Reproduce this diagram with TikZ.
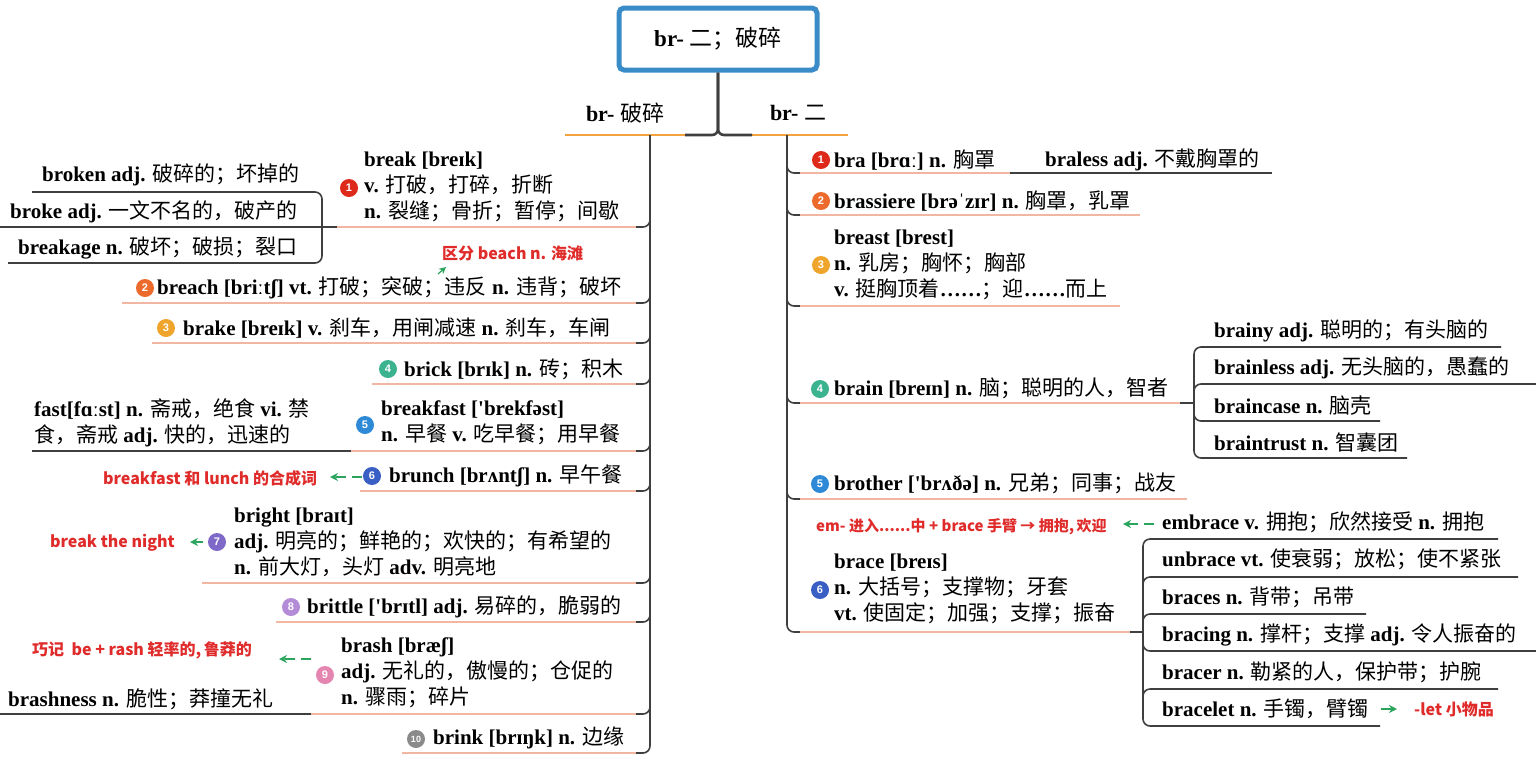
\documentclass[tikz,border=0pt]{standalone}
\usepackage{fontspec}
\setmainfont{Liberation Serif}
\newfontfamily\plainserif{Liberation Serif}
\newfontfamily\cjkfont{Noto Sans CJK SC}
\newfontfamily\redfont{Noto Sans CJK SC}
\newfontfamily\numfont{Liberation Sans}
\newcommand\myapos{{\plainserif\bfseries'}}
\usetikzlibrary{arrows.meta,calc}
% automatic switch to the CJK font for ideographs and full-width punctuation
\XeTeXinterchartokenstate=1
\newXeTeXintercharclass\CJKclass
\newcount\cjkcnt
\def\setcjkrange#1#2{\cjkcnt=#1\relax\loop\XeTeXcharclass\cjkcnt=\CJKclass\advance\cjkcnt by 1\relax\ifnum\cjkcnt<#2\relax\repeat}
\setcjkrange{"3000}{"3040}
\setcjkrange{"4E00}{"A000}
\setcjkrange{"FF00}{"FFF0}
\XeTeXcharclass"2026=0 \XeTeXcharclass"2192=0 \XeTeXcharclass"02C8=0
\XeTeXcharclass"02D0=0 \XeTeXcharclass"2018=0 \XeTeXcharclass"2019=0
\def\cjkswitch{\cjkfont\mdseries}
\XeTeXinterchartoks 0 \CJKclass = {\begingroup\cjkswitch}
\XeTeXinterchartoks 4095 \CJKclass = {\begingroup\cjkswitch}
\XeTeXinterchartoks \CJKclass 0 = {\endgroup}
\XeTeXinterchartoks \CJKclass 4095 = {\endgroup}
\definecolor{lineC}{HTML}{3F3F3F}
\definecolor{salmonC}{HTML}{F2B7A3}
\definecolor{orangeC}{HTML}{F3A33E}
\definecolor{boxC}{HTML}{3A8CC9}
\definecolor{redC}{HTML}{E02B2B}
\definecolor{greenC}{HTML}{2BA55E}
\definecolor{c1}{HTML}{DD2A1B}
\definecolor{c2}{HTML}{EC6A2C}
\definecolor{c3}{HTML}{EFA42B}
\definecolor{c4}{HTML}{3BB38E}
\definecolor{c5}{HTML}{2E8AD6}
\definecolor{c6}{HTML}{3A5FC4}
\definecolor{c7}{HTML}{7E69C9}
\definecolor{c8}{HTML}{B48BD6}
\definecolor{c9}{HTML}{E586B1}
\definecolor{c10}{HTML}{8A8A8A}
\tikzset{
  conn/.style={draw=lineC, line width=1.6pt},
  uline/.style={draw=salmonC, line width=1.6pt},
  elbow/.style={conn, rounded corners=7pt},
  txt/.style={font=\fontsize{21}{26}\selectfont\bfseries, inner sep=0pt, anchor=west, align=left, text=black},
  redtxt/.style={font=\fontsize{16}{19}\selectfont\redfont\bfseries\def\cjkswitch{\relax}, text=redC, inner sep=0pt, anchor=west},
  num/.style={circle, inner sep=0pt, minimum size=18pt, text=white, font=\numfont\bfseries\fontsize{11}{11}\selectfont},
  garrow/.style={draw=greenC, line width=1.8pt, -{Stealth[length=8pt,width=8pt]}},
  gdash/.style={garrow, dash pattern=on 10pt off 6pt},
  headtxt/.style={font=\fontsize{22}{26}\selectfont\bfseries, inner sep=0pt},
}
\begin{document}
\begin{tikzpicture}[x=1pt,y=-1pt]
\fill[white] (0,0) rectangle (1536,761);
\useasboundingbox (0,0) rectangle (1536,761);

% ---------- root and branch heads ----------
\node[draw=boxC, line width=5pt, rounded corners=5pt, minimum width=198pt, minimum height=62pt,
      font=\fontsize{23}{28}\selectfont\bfseries] (root) at (718,39) {br- 二；破碎};
\node[headtxt] (Lhead) at (625,113) {br- 破碎};
\node[headtxt] (Rhead) at (798,113) {br- 二};
\coordinate (Lj) at (685,135);
\coordinate (Rj) at (752,135);
\draw[draw=orangeC, line width=2pt] (565,135) -- (Lj);
\draw[draw=orangeC, line width=2pt] (Rj) -- (848,135);
\draw[conn, line width=2.6pt, rounded corners=6pt] (root.south) |- (Lj);
\draw[conn, line width=2.6pt, rounded corners=6pt] (root.south) |- (Rj);

% ---------- trunks ----------
\coordinate (Ltop) at (650,135);
\coordinate (Lbot) at (650,745);
\coordinate (Rtop) at (787,135);
\coordinate (Rbot) at (787,624);
\draw[conn] (Ltop) -- (Lbot);
\draw[conn] (Rtop) -- (Rbot);
\foreach \y in {227,303,343,384,451,491,583,622,714,753}
  {\draw[elbow] (650,\y-12) |- (634,\y);}
\foreach \y in {173,215,306,403,499,632}
  {\draw[elbow] (787,\y-12) |- (803,\y);}

% ---------- left branch ----------
% 1 break
\node[num,fill=c1] (n1) at (349,188) {1};
\node[txt] (break) at (364,187) {break [breɪk]\\v. 打破，打碎，折断\\n. 裂缝；骨折；暂停；间歇};
\draw[uline] (337,227) -- (636,227);
\node[txt] (broken) at (42,175) {broken adj. 破碎的；坏掉的};
\node[txt] (broke) at (10,212) {broke adj. 一文不名的，破产的};
\node[txt] (breakage) at (18,248) {breakage n. 破坏；破损；裂口};
\draw[conn] (0,227) -- (337,227);
\draw[elbow] (32,192) -| (322,227) |- (8,263);

% 2 breach
\node[num,fill=c2] (n2) at (145,288) {2};
\node[txt] (breach) at (157,288) {breach [briːtʃ] vt. 打破；突破；违反 n. 违背；破坏};
\draw[uline] (122,303) -- (636,303);
\node[redtxt] (beach) at (442,253) {区分 beach n. 海滩};
\coordinate (a2) at (438,274);
\coordinate (b2) at (446,267);
\draw[draw=greenC, line width=1.2pt, -{Stealth[length=7pt,width=7pt]}] (a2) -- (b2);

% 3 brake
\node[num,fill=c3] (n3) at (166,328) {3};
\node[txt] (brake) at (183,328) {brake [breɪk] v. 刹车，用闸减速 n. 刹车，车闸};
\draw[uline] (152,343) -- (636,343);

% 4 brick
\node[num,fill=c4] (n4) at (388,369) {4};
\node[txt] (brick) at (404,369) {brick [brɪk] n. 砖；积木};
\draw[uline] (372,384) -- (636,384);

% 5 breakfast
\node[num,fill=c5] (n5) at (365,425) {5};
\node[txt] (breakfast) at (381,423) {breakfast [\myapos brekfəst]\\n. 早餐 v. 吃早餐；用早餐};
\node[txt] (fast) at (34,423) {fast[fɑːst] n. 斋戒，绝食 vi. 禁\\食，斋戒 adj. 快的，迅速的};
\draw[conn] (32,451) -- (351,451);
\draw[uline] (351,451) -- (636,451);

% 6 brunch
\node[num,fill=c6] (n6) at (372,476) {6};
\node[txt] (brunch) at (389,476) {brunch [brʌntʃ] n. 早午餐};
\draw[uline] (360,491) -- (636,491);
\node[redtxt] (brunchnote) at (103,478) {breakfast 和 lunch 的合成词};
\coordinate (a6s) at (362,477);
\coordinate (a6e) at (330,477);
\draw[gdash] (a6s) -- (a6e);

% 7 bright
\node[num,fill=c7] (n7) at (217,542) {7};
\node[txt] (bright) at (234,542) {bright [braɪt]\\adj. 明亮的；鲜艳的；欢快的；有希望的\\n. 前大灯，头灯 adv. 明亮地};
\draw[uline] (202,583) -- (636,583);
\node[redtxt] (brightnote) at (50,543) {break the night};
\coordinate (a7s) at (203,542);
\coordinate (a7e) at (190,542);
\draw[garrow] (a7s) -- (a7e);

% 8 brittle
\node[num,fill=c8] (n8) at (291,607) {8};
\node[txt] (brittle) at (307,607) {brittle [\myapos brɪtl] adj. 易碎的，脆弱的};
\draw[uline] (276,622) -- (636,622);

% 9 brash
\node[num,fill=c9] (n9) at (325,675) {9};
\node[txt] (brash) at (341,673) {brash [bræʃ]\\adj. 无礼的，傲慢的；仓促的\\n. 骤雨；碎片};
\node[txt] (brashness) at (8,699) {brashness n. 脆性；莽撞无礼};
\draw[conn] (0,714) -- (311,714);
\draw[uline] (311,714) -- (636,714);
\node[redtxt] (brashnote) at (32,650) {巧记\ \ be + rash 轻率的,\,鲁莽的};
\coordinate (a9s) at (311,659);
\coordinate (a9e) at (279,659);
\draw[gdash] (a9s) -- (a9e);

% 10 brink
\node[num,fill=c10,font=\numfont\bfseries\fontsize{9}{9}\selectfont] (n10) at (416,739) {10};
\node[txt] (brink) at (433,738) {brink [brɪŋk] n. 边缘};
\draw[uline] (402,753) -- (636,753);

% ---------- right branch ----------
% 1 bra
\node[num,fill=c1] (r1) at (821,160) {1};
\node[txt] (bra) at (834,160) {bra [brɑː] n. 胸罩};
\draw[uline] (800,173) -- (1010,173);
\draw[conn] (1010,173) -- (1272,173);
\node[txt] (braless) at (1045,160) {braless adj. 不戴胸罩的};

% 2 brassiere
\node[num,fill=c2] (r2) at (821,201) {2};
\node[txt] (brassiere) at (834,201) {brassiere [brəˈzɪr] n. 胸罩，乳罩};
\draw[uline] (800,215) -- (1140,215);

% 3 breast
\node[num,fill=c3] (r3) at (821,265) {3};
\node[txt] (breast) at (834,265) {breast [brest]\\n. 乳房；胸怀；胸部\\v. 挺胸顶着……；迎……而上};
\draw[uline] (800,306) -- (1120,306);

% 4 brain
\node[num,fill=c4] (r4) at (820,389) {4};
\node[txt] (brain) at (834,388) {brain [breɪn] n. 脑；聪明的人，智者};
\draw[uline] (800,403) -- (1180,403);
\draw[conn] (1180,403) -- (1194,403);
\node[txt] (brainy) at (1214,331) {brainy adj. 聪明的；有头脑的};
\node[txt] (brainless) at (1214,368) {brainless adj. 无头脑的，愚蠢的};
\node[txt] (braincase) at (1214,406) {braincase n. 脑壳};
\node[txt] (braintrust) at (1214,443) {braintrust n. 智囊团};
\draw[elbow] (1501,347) -| (1194,403) |- (1407,458);
\draw[elbow] (1194,396) |- (1536,384);
\draw[elbow] (1194,410) |- (1380,421);

% 5 brother
\node[num,fill=c5] (r5) at (820,484) {5};
\node[txt] (brother) at (834,483) {brother [\myapos brʌðə] n. 兄弟；同事；战友};
\draw[uline] (800,499) -- (1187,499);

% 6 brace
\node[num,fill=c6] (r6) at (820,590) {6};
\node[txt] (brace) at (834,589) {brace [breɪs]\\n. 大括号；支撑物；牙套\\vt. 使固定；加强；支撑；振奋};
\draw[uline] (800,632) -- (1130,632);
\draw[conn] (1130,632) -- (1143,632);
\node[redtxt, font=\fontsize{15}{18}\selectfont\redfont\bfseries\def\cjkswitch{\relax}] (emnote) at (816,527) {em- 进入......中 + brace 手臂 → 拥抱,\,欢迎};
\node[txt] (embrace) at (1162,522) {embrace v. 拥抱；欣然接受 n. 拥抱};
\coordinate (aes) at (1154,524);
\coordinate (aee) at (1123,524);
\draw[gdash] (aes) -- (aee);
\node[txt] (unbrace) at (1162,559) {unbrace vt. 使衰弱；放松；使不紧张};
\node[txt] (braces) at (1162,597) {braces n. 背带；吊带};
\node[txt] (bracing) at (1162,635) {bracing n. 撑杆；支撑 adj. 令人振奋的};
\node[txt] (bracer) at (1162,672) {bracer n. 勒紧的人，保护带；护腕};
\node[txt] (bracelet) at (1162,709) {bracelet n. 手镯，臂镯};
\draw[elbow] (1498,539) -| (1143,632) |- (1380,726);
\draw[elbow] (1143,586) |- (1518,577);
\draw[elbow] (1143,623) |- (1366,614);
\draw[elbow] (1143,642) |- (1536,651);
\draw[elbow] (1143,699) |- (1498,689);
\node[redtxt] (letnote) at (1414,709) {-let 小物品};
\coordinate (als) at (1381,709);
\coordinate (ale) at (1397,709);
\draw[garrow] (als) -- (ale);
\end{tikzpicture}
\end{document}
